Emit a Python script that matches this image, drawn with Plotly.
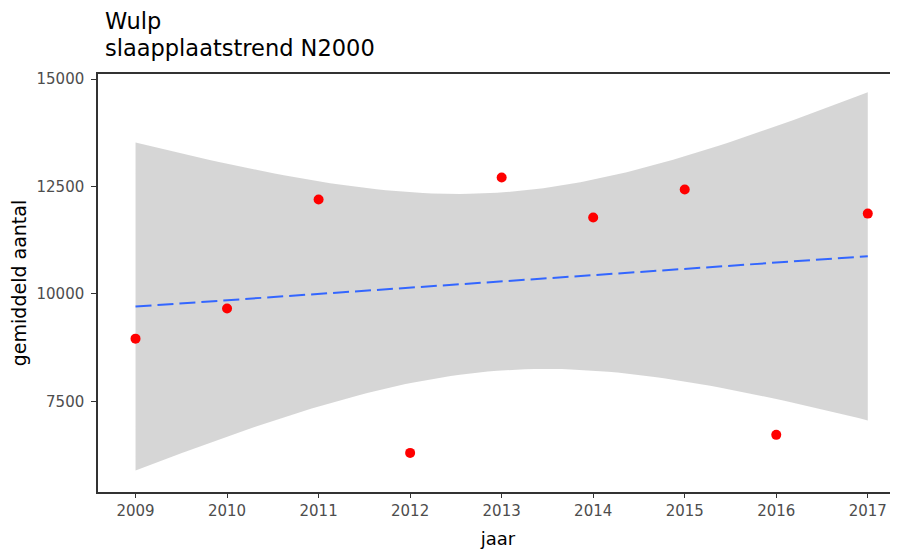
import numpy as np
import plotly.graph_objects as go

years = [2009, 2010, 2011, 2012, 2013, 2014, 2015, 2016, 2017]
counts = [8960, 9660, 12200, 6300, 12710, 11780, 12430, 6720, 11870]
title_lines = ["Wulp", "slaapplaatstrend N2000"]
x_label = "jaar"
y_label = "gemiddeld aantal"
y_ticks = [7500, 10000, 12500, 15000]

# linear model with 95% confidence band (as geom_smooth(method="lm"))
x = np.array(years, dtype=float)
y = np.array(counts, dtype=float)
n = len(x)
slope, intercept = np.polyfit(x, y, 1)
resid = y - (slope * x + intercept)
s = np.sqrt(np.sum(resid ** 2) / (n - 2))
sxx = np.sum((x - x.mean()) ** 2)
t_crit = 2.364624  # t(0.975, df=7)
xs = np.linspace(x.min(), x.max(), 80)
fit = slope * xs + intercept
se = s * np.sqrt(1 / n + (xs - x.mean()) ** 2 / sxx)
upper = fit + t_crit * se
lower = fit - t_crit * se

fig = go.Figure()
fig.add_trace(go.Scatter(
    x=np.concatenate([xs, xs[::-1]]), y=np.concatenate([upper, lower[::-1]]),
    fill="toself", fillcolor="rgba(153,153,153,0.4)", line=dict(width=0),
    mode="lines", hoverinfo="skip", showlegend=False))
fig.add_trace(go.Scatter(
    x=xs, y=fit, mode="lines",
    line=dict(color="#3366FF", width=2, dash="16px,6px"), showlegend=False))
fig.add_trace(go.Scatter(
    x=years, y=counts, mode="markers",
    marker=dict(color="#FF0000", size=10), showlegend=False))

# page body has an 8px default margin; figure sized to fill the rest
fig.update_layout(
    width=890, height=543,
    margin=dict(l=90, r=0, t=66, b=59, autoexpand=False),
    paper_bgcolor="white", plot_bgcolor="white",
    font=dict(family="DejaVu Sans", color="black"),
    annotations=[
        dict(text=title_lines[0], xref="paper", yref="paper",
             x=0, xshift=6, y=1, yshift=39, xanchor="left", yanchor="bottom",
             borderpad=0, showarrow=False, font=dict(size=22.5, color="black")),
        dict(text=title_lines[1], xref="paper", yref="paper",
             x=0, xshift=6, y=1, yshift=12, xanchor="left", yanchor="bottom",
             borderpad=0, showarrow=False, font=dict(size=22.5, color="black")),
    ],
)
fig.update_xaxes(
    range=[2008.59, 2017.33], tickmode="array", tickvals=years,
    ticktext=[str(v) for v in years], automargin=False,
    showgrid=False, zeroline=False, showline=True, linecolor="#333333", linewidth=1.5,
    mirror=True, ticks="outside", ticklen=4, tickcolor="#333333",
    tickfont=dict(size=15, color="#4D4D4D"),
    title=dict(text=x_label, font=dict(size=18, color="black"), standoff=14))
fig.update_yaxes(
    range=[5390, 15120], tickmode="array", tickvals=y_ticks,
    ticktext=[str(v) for v in y_ticks], automargin=False,
    showgrid=False, zeroline=False, showline=True, linecolor="#333333", linewidth=1.5,
    ticks="outside", ticklen=5, tickcolor="#333333", ticklabelstandoff=4,
    tickfont=dict(size=15, color="#4D4D4D"),
    title=dict(text=y_label, font=dict(size=19, color="black"), standoff=10))

fig.write_html("out.html")
